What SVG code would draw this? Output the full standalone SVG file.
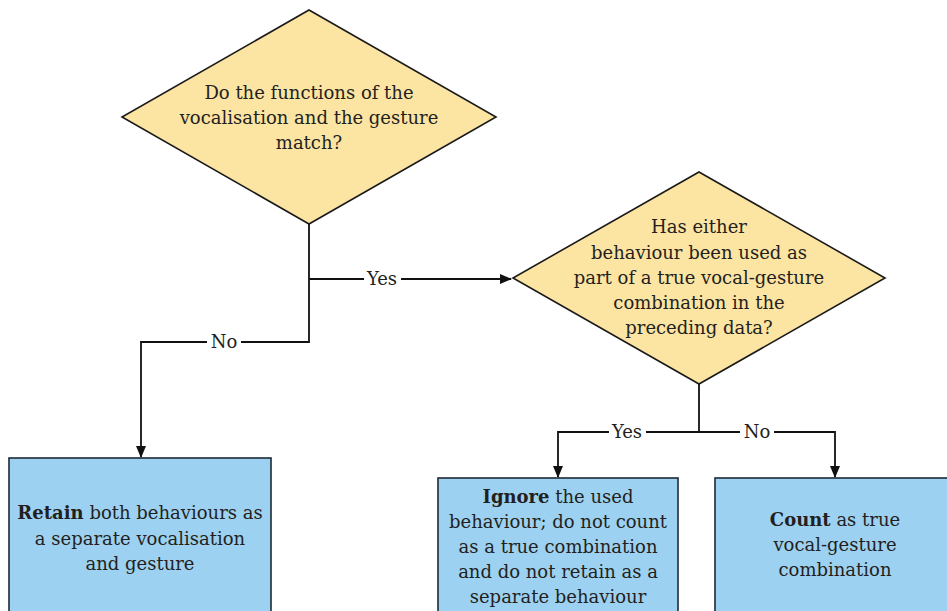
<svg xmlns="http://www.w3.org/2000/svg" width="947" height="611" viewBox="0 0 947 611">
<style>
text{font-family:"DejaVu Serif","Liberation Serif",serif;font-size:18px;fill:#231f20;text-anchor:middle}
.b{font-weight:bold}
.dia{fill:#fce4a3;stroke:#1a1a1a;stroke-width:1.6}
.box{fill:#9dd1f1;stroke:#1e2a36;stroke-width:1.6}
.con{fill:none;stroke:#111;stroke-width:1.8}
.lblbg{fill:#fff}
</style>
<defs>
<marker id="ah" markerUnits="userSpaceOnUse" markerWidth="12" markerHeight="10" refX="11" refY="5" orient="auto">
<path d="M0,0 L12,5 L0,10 z" fill="#111"/>
</marker>
</defs>
<rect width="947" height="611" fill="#fff"/>
<g id="connectors">
<path class="con" d="M309,224 V342 H141 V457" marker-end="url(#ah)"/>
<path class="con" d="M309,279 H511" marker-end="url(#ah)"/>
<path class="con" d="M699,384 V432"/>
<path class="con" d="M699,432 H558 V477" marker-end="url(#ah)"/>
<path class="con" d="M699,432 H835 V477" marker-end="url(#ah)"/>
<rect class="lblbg" x="207" y="332" width="34" height="20"/>
<text x="224" y="348">No</text>
<rect class="lblbg" x="364" y="269" width="37" height="20"/>
<text x="382" y="285">Yes</text>
<rect class="lblbg" x="609" y="422" width="37" height="20"/>
<text x="627" y="438">Yes</text>
<rect class="lblbg" x="740" y="422" width="34" height="20"/>
<text x="757" y="438">No</text>
</g>
<g id="q1">
<polygon class="dia" points="309,10 496,117 309,224 122,117"/>
<text x="309" y="99">Do the functions of the</text>
<text x="309" y="124">vocalisation and the gesture</text>
<text x="309" y="149">match?</text>
</g>
<g id="q2">
<polygon class="dia" points="699,172 885,278 699,384 513,278"/>
<text x="699" y="233">Has either</text>
<text x="699" y="259">behaviour been used as</text>
<text x="699" y="284">part of a true vocal-gesture</text>
<text x="699" y="309">combination in the</text>
<text x="699" y="334">preceding data?</text>
</g>
<g id="retain">
<rect class="box" x="9" y="458" width="262" height="170"/>
<text x="140" y="519"><tspan class="b">Retain</tspan> both behaviours as</text>
<text x="140" y="545">a separate vocalisation</text>
<text x="140" y="570">and gesture</text>
</g>
<g id="ignore">
<rect class="box" x="438" y="478" width="240" height="150"/>
<text x="558" y="503"><tspan class="b">Ignore</tspan> the used</text>
<text x="558" y="528">behaviour; do not count</text>
<text x="558" y="553">as a true combination</text>
<text x="558" y="578">and do not retain as a</text>
<text x="558" y="603">separate behaviour</text>
</g>
<g id="count">
<rect class="box" x="715" y="478" width="240" height="150"/>
<text x="835" y="526"><tspan class="b">Count</tspan> as true</text>
<text x="835" y="551">vocal-gesture</text>
<text x="835" y="576">combination</text>
</g>
</svg>
